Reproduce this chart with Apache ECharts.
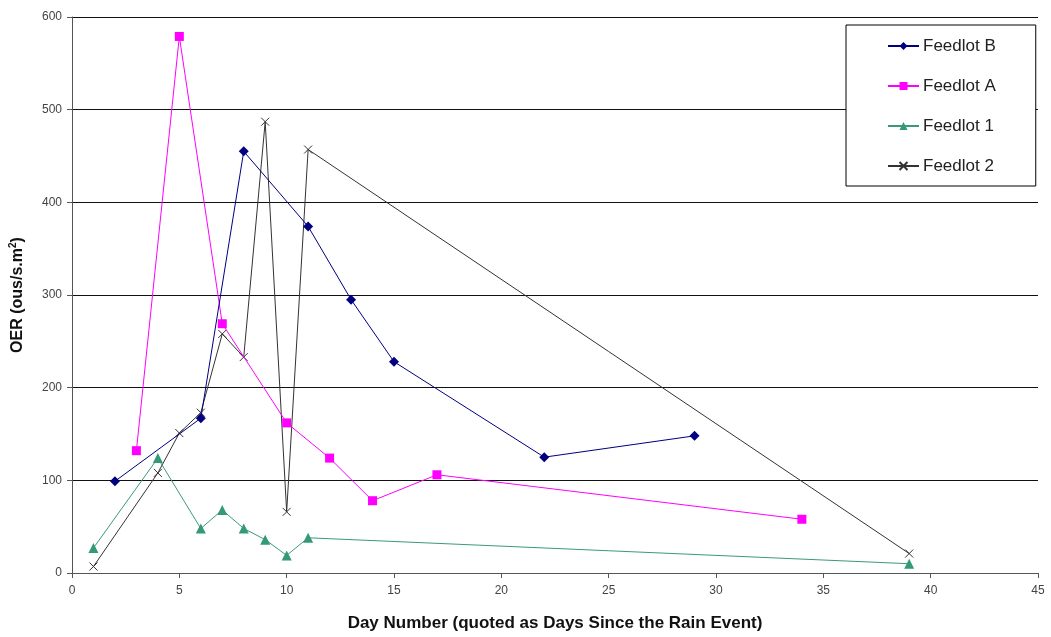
<!DOCTYPE html>
<html>
<head>
<meta charset="utf-8">
<script src="https://cdn.jsdelivr.net/npm/echarts@6/dist/echarts.min.js"></script>
<style>
  html, body { margin: 0; padding: 0; background: #fff; }
  #chart { width: 1051px; height: 637px; }
</style>
</head>
<body>
<div id="chart"></div>
<script>
// Odour emission rate measurements per feedlot, [day, OER]
const feedlotB = [[2, 99], [6, 167], [8, 455], [11, 374], [13, 295], [15, 228], [22, 125], [29, 148]];
const feedlotA = [[3, 132], [5, 579], [7, 269], [10, 162], [12, 124], [14, 78], [17, 106], [34, 58]];
const feedlot1 = [[1, 27], [4, 124], [6, 48], [7, 68], [8, 48], [9, 36], [10, 19], [11, 38], [39, 10]];
const feedlot2 = [[1, 7], [4, 108], [5, 151], [6, 173], [7, 258], [8, 233], [9, 487], [10, 66], [11, 457], [39, 21]];
const seriesNames = ['Feedlot B', 'Feedlot A', 'Feedlot 1', 'Feedlot 2'];
const xTicks = { min: 0, max: 45, interval: 5 };
const yTicks = { min: 0, max: 600, interval: 100 };

const font = 'Liberation Sans, Arial, sans-serif';
const crossPath = 'path://M0,0L10,10M10,0L0,10';

const chart = echarts.init(document.getElementById('chart'), null, { renderer: 'canvas' });

chart.setOption({
  animation: false,
  backgroundColor: '#ffffff',
  grid: { left: 71, right: 13, top: 17, bottom: 63, containLabel: false },
  legend: {
    orient: 'vertical',
    left: 846,
    top: 25,
    padding: [12, 40, 11, 41],
    itemGap: 22,
    itemWidth: 31,
    itemHeight: 10,
    borderColor: '#000',
    borderWidth: 1,
    backgroundColor: '#fff',
    textStyle: { fontFamily: font, fontSize: 17, lineHeight: 18, color: '#222', padding: [0, 0, 0, -1] },
    data: seriesNames
  },
  xAxis: {
    type: 'value',
    min: xTicks.min, max: xTicks.max, interval: xTicks.interval,
    name: 'Day Number (quoted as Days Since the Rain Event)',
    nameLocation: 'middle',
    nameGap: 42,
    nameTextStyle: { fontFamily: font, fontSize: 17, fontWeight: 'bold', color: '#111' },
    axisLine: { onZero: false, lineStyle: { color: '#555', width: 1 } },
    axisTick: { show: true, length: 5, lineStyle: { color: '#555' } },
    axisLabel: { fontFamily: font, fontSize: 12, color: '#444', margin: 12 },
    splitLine: { show: false }
  },
  yAxis: {
    type: 'value',
    min: yTicks.min, max: yTicks.max, interval: yTicks.interval,
    name: 'OER (ous/s.m{sup|2})',
    nameLocation: 'middle',
    nameGap: 45,
    nameTextStyle: {
      fontFamily: font, fontSize: 16, fontWeight: 'bold', color: '#111',
      rich: { sup: { fontFamily: font, fontSize: 10, fontWeight: 'bold', color: '#111', verticalAlign: 'top', padding: [0, 0, 9, 0] } }
    },
    axisLine: { show: true, lineStyle: { color: '#555', width: 1 } },
    axisTick: { show: true, length: 5, lineStyle: { color: '#555' } },
    axisLabel: { fontFamily: font, fontSize: 12, color: '#444', margin: 10 },
    splitLine: { show: true, lineStyle: { color: '#111', width: 1 } }
  },
  series: [
    {
      name: seriesNames[0], type: 'line', data: feedlotB,
      symbol: 'diamond', symbolSize: 10,
      lineStyle: { color: '#000080', width: 1 },
      itemStyle: { color: '#000080' },
      z: 4
    },
    {
      name: seriesNames[1], type: 'line', data: feedlotA,
      symbol: 'rect', symbolSize: 9,
      lineStyle: { color: '#ff00ff', width: 1 },
      itemStyle: { color: '#ff00ff' },
      z: 3
    },
    {
      name: seriesNames[2], type: 'line', data: feedlot1,
      symbol: 'triangle', symbolSize: 10,
      lineStyle: { color: '#3a9a78', width: 1 },
      itemStyle: { color: '#339977' },
      z: 2
    },
    {
      name: seriesNames[3], type: 'line', data: feedlot2,
      symbol: crossPath, symbolSize: 8,
      lineStyle: { color: '#333333', width: 1 },
      itemStyle: { color: 'rgba(0,0,0,0)', borderColor: '#333333', borderWidth: 1 },
      z: 1
    }
  ]
});
</script>
</body>
</html>
